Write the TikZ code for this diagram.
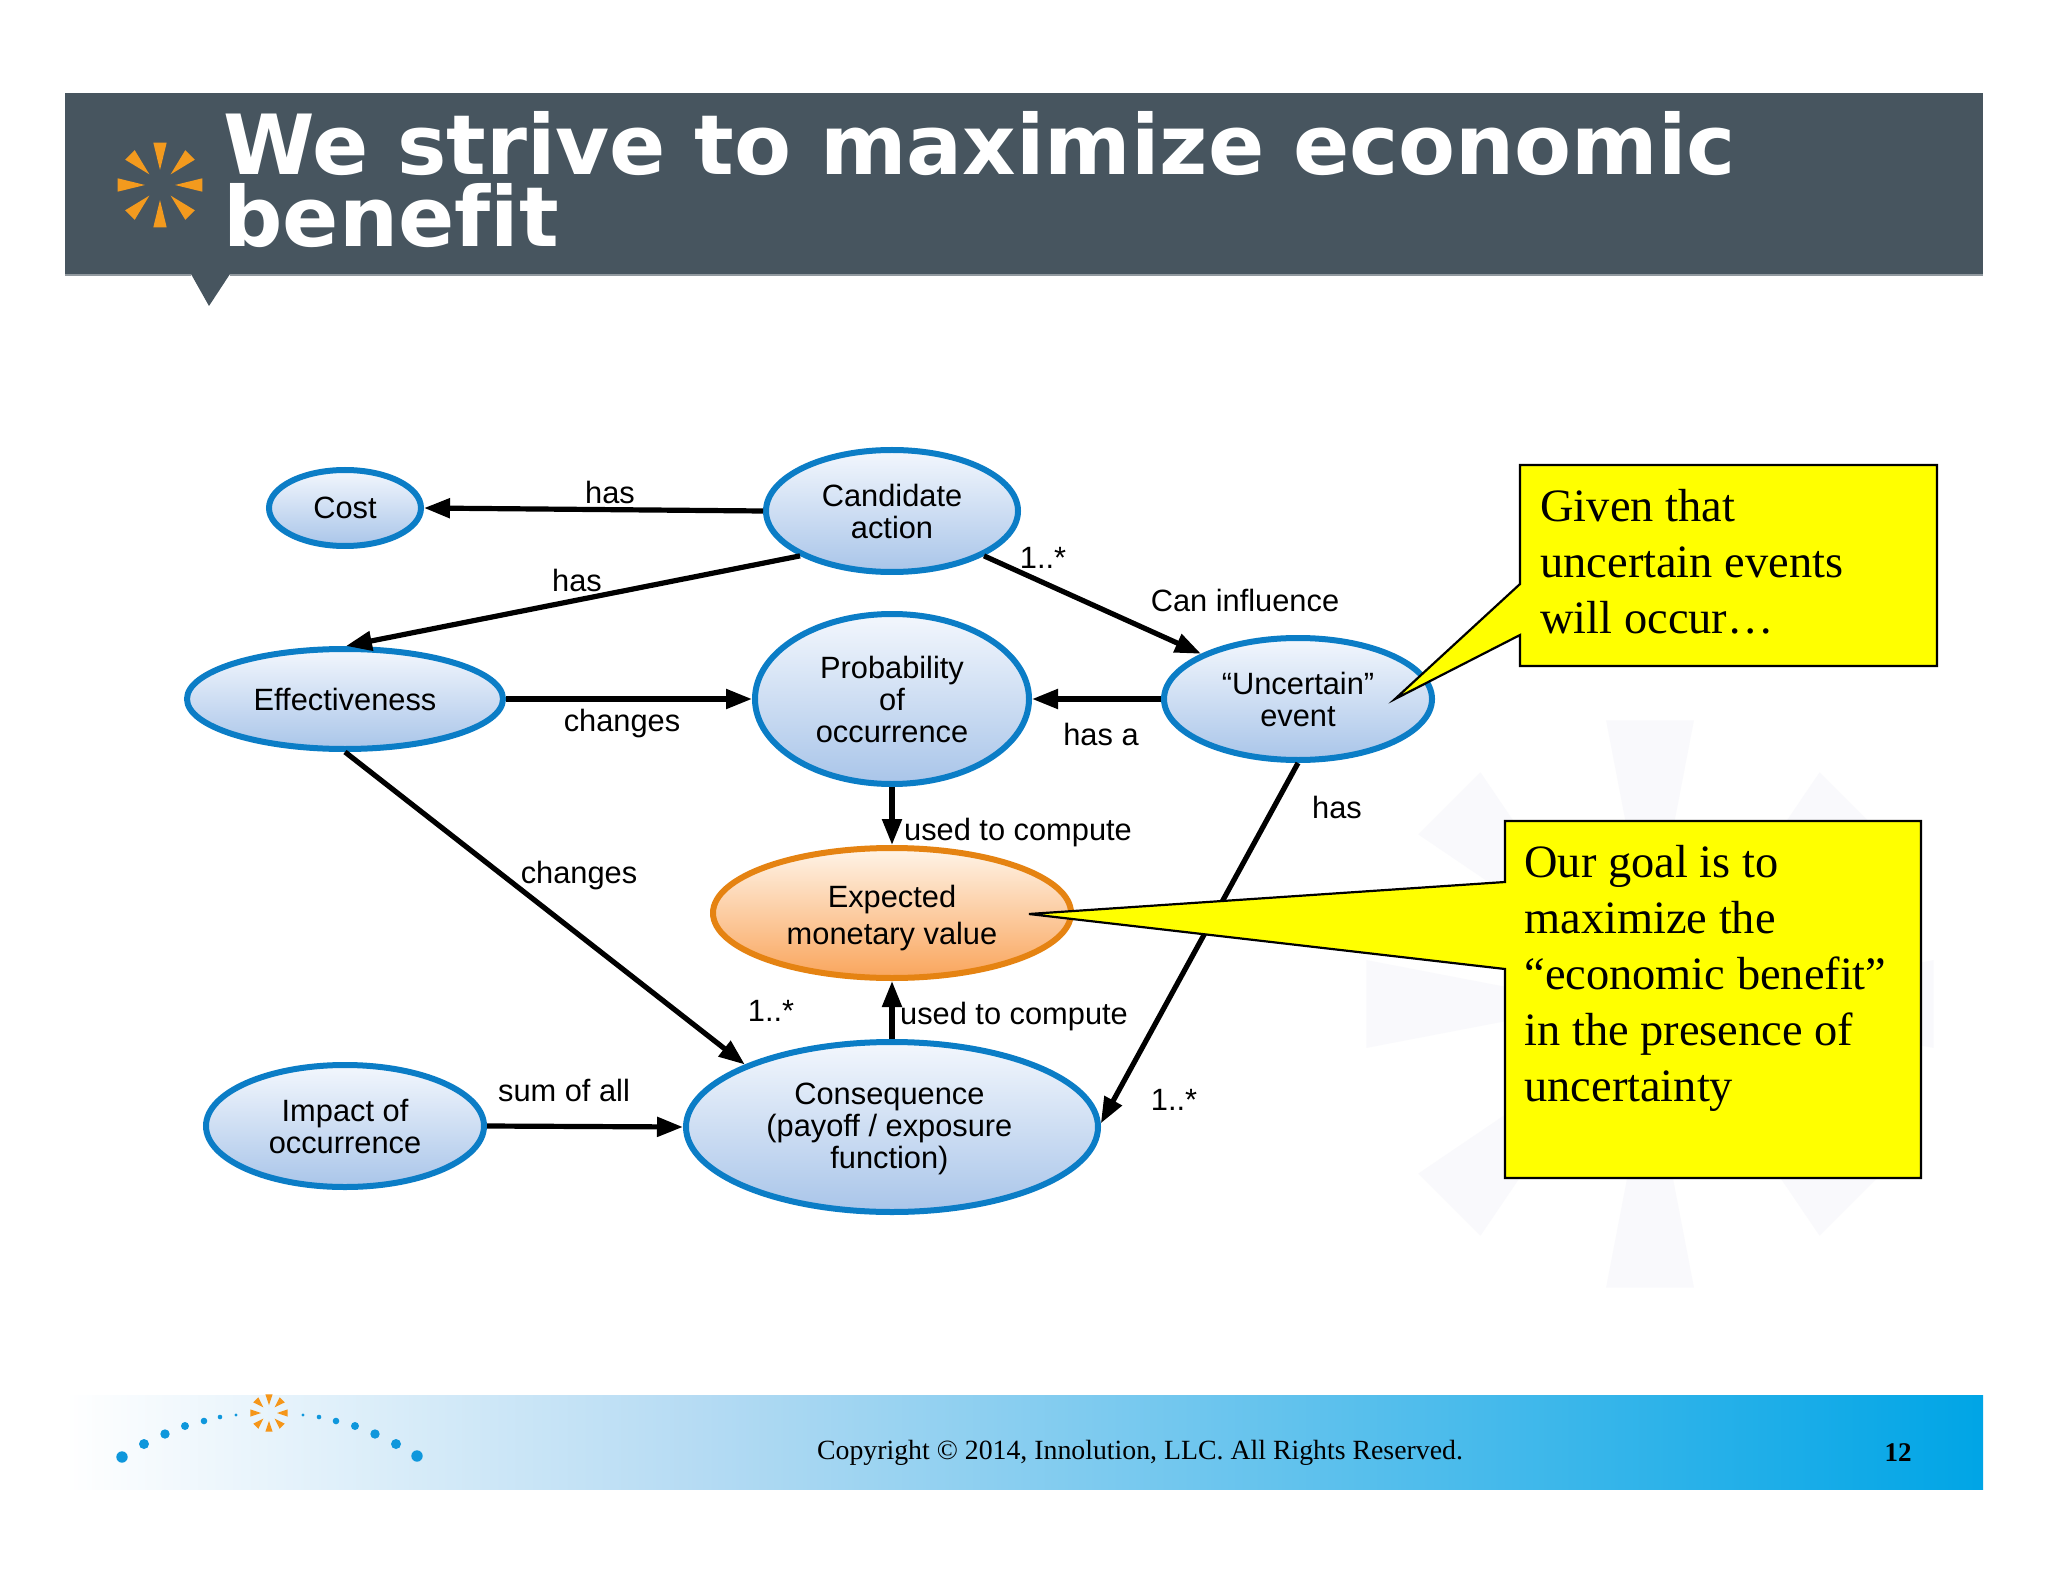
\documentclass[tikz,border=0pt]{standalone}
\usepackage{fontspec}
\setmainfont{Liberation Sans}
\newfontfamily\titlefont{DejaVu Sans}[Ligatures=NoCommon]
\newfontfamily\serifface{Liberation Serif}
\usetikzlibrary{arrows.meta,shapes.geometric}
\definecolor{headbar}{HTML}{47555F}
\definecolor{blueline}{HTML}{0B7DC6}
\definecolor{blueA}{HTML}{F3F7FD}
\definecolor{blueB}{HTML}{A9C5E9}
\definecolor{orangeline}{HTML}{E58312}
\definecolor{orangeA}{HTML}{FFF4E8}
\definecolor{orangeB}{HTML}{F9A55C}
\definecolor{starorange}{HTML}{F39A1E}
\definecolor{footblue}{HTML}{00A5E6}
\definecolor{footmid}{HTML}{B5DBF3}
\definecolor{dotblue}{HTML}{0F97DC}
\definecolor{water}{HTML}{F9F9FC}
\definecolor{noteyellow}{HTML}{FFFF00}
\newcommand\nudgedtext[3]{\hspace*{#1}\raisebox{#2}[0pt][0pt]{\begin{tabular}{@{}c@{}}#3\end{tabular}}}
\tikzset{
  concept/.style={ellipse,draw=blueline,line width=3pt,top color=blueA,bottom color=blueB,inner sep=0pt,
    align=center,font=\fontsize{15.4}{16}\selectfont},
  goal/.style={concept,draw=orangeline,top color=orangeA,bottom color=orangeB},
  link/.style={line width=2.6pt,-{Triangle[length=13pt,width=9.5pt]},black},
  lbl/.style={font=\fontsize{15.4}{16}\selectfont,inner sep=0pt},
  callout/.style={draw=black,fill=noteyellow,line width=1.1pt,line join=miter},
  calltext/.style={font=\serifface\fontsize{23.2}{28}\selectfont,align=left,anchor=north west,inner sep=0pt}
}
\begin{document}
\begin{tikzpicture}[x=0.5pt,y=-0.5pt]
\useasboundingbox (0,0) rectangle (2048,1582);
\fill[white] (0,0) rectangle (2048,1582);
% watermark
\begin{scope}[shift={(1650,1004)}]
\foreach \a in {0,45,...,315}{
  \fill[water] (\a:55) -- ({\a-8.8}:287) -- ({\a+8.8}:287) -- cycle;
}
\end{scope}
% header
\fill[headbar] (65,93) rectangle (1983,274);
\fill[headbar] (191,274) -- (209,306) -- (230,274) -- cycle;
\draw[headbar!60!white,line width=0.6pt] (65,275) -- (191,275) (230,275) -- (1983,275);
\begin{scope}[shift={(160,185)}]
\foreach \a in {0,45,...,315}{
  \fill[starorange] (\a:15) -- ({\a-9}:43) -- ({\a+9}:43) -- cycle;
}
\end{scope}
\node[anchor=north west,inner sep=0pt,align=left,text=white,font=\titlefont\bfseries\fontsize{41.5}{36}\selectfont] (title) at (223,111) {We strive to maximize economic\\benefit};
% footer
\shade[left color=white,right color=footmid] (65,1395) rectangle (700,1489);
\shade[left color=footmid,right color=footblue] (699.5,1395) rectangle (1983,1489);
\foreach \px/\py/\r in {122/1457/5.7,144/1444/5,165/1434/4.7,185/1426/4,204/1421/3.3,220/1417/2.3,236/1415/1.7,303/1415/1.7,319/1417/2.3,336/1421/3.3,355/1426/4,375/1434/4.7,396/1444/5,417/1456/5.7}{
  \fill[dotblue] (\px,\py) circle[radius=\r];
}
\begin{scope}[shift={(269,1413)}]
\foreach \a in {0,45,...,315}{
  \fill[starorange!85!orange] (\a:8) -- ({\a-11}:19) -- ({\a+11}:19) -- cycle;
}
\end{scope}
\node[font=\serifface\fontsize{13.9}{16}\selectfont,inner sep=0pt] (copy) at (1140,1453) {Copyright © 2014, Innolution, LLC. All Rights Reserved.};
\node[font=\serifface\bfseries\fontsize{13.5}{16}\selectfont,inner sep=0pt] (pg) at (1898,1453) {12};
% concepts
\node[concept,minimum width=76pt,minimum height=38pt] (cost) at (345,508) {Cost};
\node[concept,minimum width=126pt,minimum height=61pt] (cand) at (892,511) {Candidate\\action};
\node[concept,minimum width=158pt,minimum height=50pt] (eff) at (345,699) {Effectiveness};
\node[concept,minimum width=137pt,minimum height=85pt] (prob) at (892,699) {Probability\\of\\occurrence};
\node[concept,minimum width=134pt,minimum height=61pt] (unc) at (1298,699) {“Uncertain”\\event};
\node[goal,minimum width=179pt,minimum height=65pt] (emv) at (892,913) {\nudgedtext{0pt}{-6.85pt}{Expected\\[2.6pt]monetary value}};
\node[concept,minimum width=139pt,minimum height=61pt] (imp) at (345,1126) {Impact of\\occurrence};
\node[concept,minimum width=206pt,minimum height=85pt] (cons) at (892,1127) {\nudgedtext{-2.6pt}{-5.15pt}{Consequence\\(payoff / exposure\\function)}};
% links
\draw[link] (cand.west) -- (cost.east);
\draw[link] (cand.206) -- (eff.89);
\draw[link] (cand.-26) -- (unc.155);
\draw[link] (eff.east) -- (prob.west);
\draw[link] (unc.west) -- (prob.east);
\draw[link] (prob.south) -- (emv.north);
\draw[link] (cons.north) -- (emv.south);
\draw[link] (eff.south) -- (cons.157);
\draw[link] (imp.east) -- (cons.west);
\draw[link] (unc.south) -- (cons.1);
% link labels
\node[lbl] (l1) at (610,492) {has};
\node[lbl] (l2) at (577,580) {has};
\node[lbl] (l3) at (1245,600) {Can influence};
\node[lbl] (l4) at (1043,558) {1..*};
\node[lbl] (l5) at (622,724) {changes};
\node[lbl] (l6) at (1101,734) {has a};
\node[lbl] (l7) at (1018,833) {used to compute};
\node[lbl] (l8) at (1014,1017) {used to compute};
\node[lbl] (l9) at (579,876) {changes};
\node[lbl] (l10) at (1337,807) {has};
\node[lbl] (l11) at (771,1011) {1..*};
\node[lbl] (l12) at (564,1090) {sum of all};
\node[lbl] (l13) at (1174,1100) {1..*};
% callouts
\draw[callout] (1520,465) -- (1937,465) -- (1937,666) -- (1520,666) -- (1520,635) -- (1395,699) -- (1520,584) -- cycle;
\node[calltext] (c1) at (1540,489) {Given that\\uncertain events\\will occur…};
\draw[callout] (1505,821) -- (1921,821) -- (1921,1178) -- (1505,1178) -- (1505,969) -- (1029,914) -- (1505,882) -- cycle;
\node[calltext] (c2) at (1524,845) {Our goal is to\\maximize the\\“economic benefit”\\in the presence of\\uncertainty};
\end{tikzpicture}
\end{document}
